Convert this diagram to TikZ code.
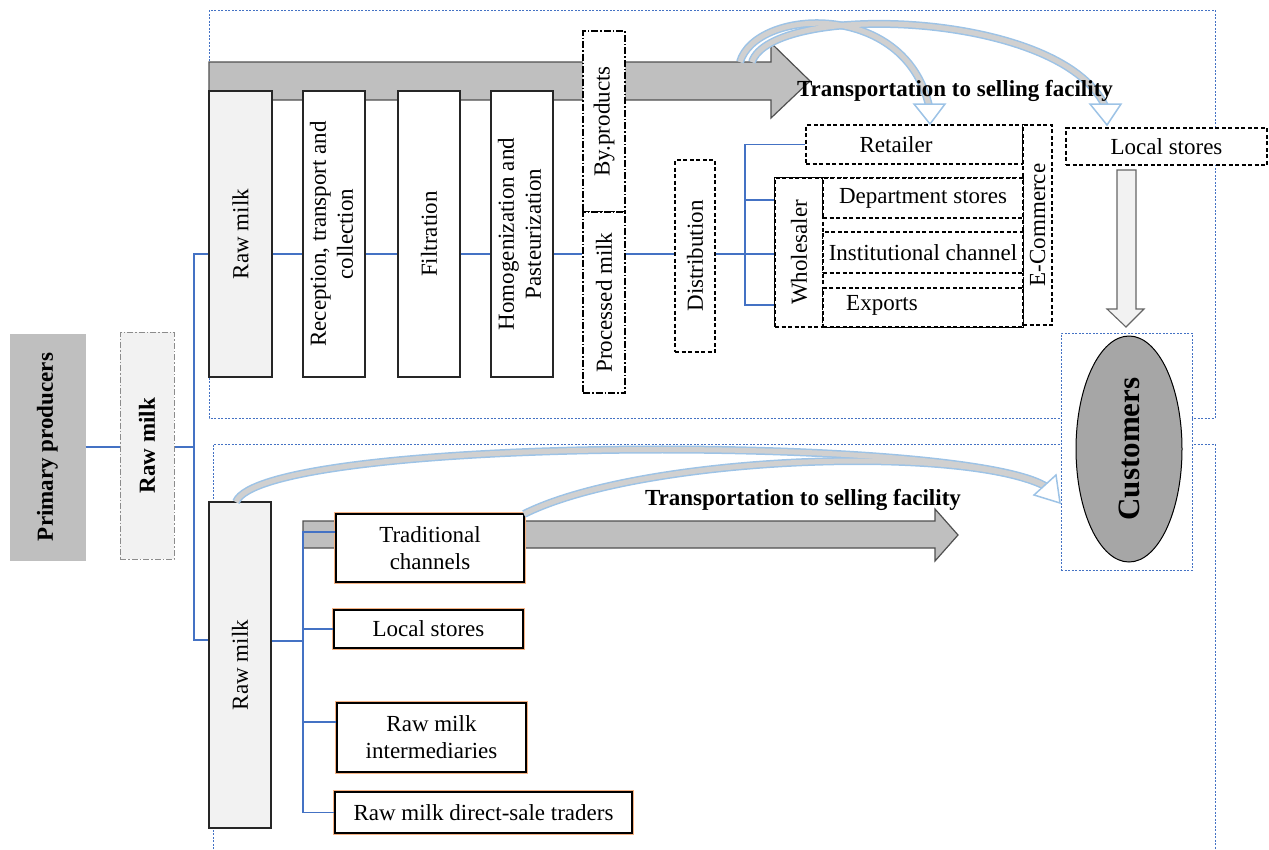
\documentclass[tikz,border=0pt]{standalone}
\usepackage{fontspec}
\setmainfont{Liberation Serif}
\usetikzlibrary{shapes.geometric,calc}
\definecolor{arrowC}{HTML}{BFBFBF}
\definecolor{arrowD}{HTML}{505050}
\definecolor{lightC}{HTML}{F2F2F2}
\definecolor{connC}{HTML}{4472C4}
\definecolor{frameC}{HTML}{4472C4}
\definecolor{orangeC}{HTML}{F4B183}
\definecolor{custC}{HTML}{A6A6A6}
\definecolor{curveC}{HTML}{D0D0D0}
\definecolor{curveO}{HTML}{9DC3E6}
\definecolor{ppC}{HTML}{BFBFBF}
\begin{document}
\begin{tikzpicture}[x=1pt,y=-1pt,
  every node/.style={font=\fontsize{23}{27}\selectfont, inner sep=0pt},
  box/.style={draw=black!85, line width=1.2pt, fill=white},
  lbox/.style={box, fill=lightC},
  dbox/.style={draw=black, line width=1.2pt, dash pattern=on 4pt off 2.5pt, fill=white},
  ddbox/.style={draw=black, line width=1.2pt, dash pattern=on 7pt off 2pt on 1.5pt off 2pt, fill=white},
  obox/.style={preaction={draw=orangeC, line width=4pt}, draw=black, line width=1.3pt, fill=white},
  conn/.style={draw=connC, line width=1.2pt},
  frame/.style={draw=frameC, line width=0.9pt, dash pattern=on 2pt off 1.5pt},
  bigarrow/.style={fill=arrowC, draw=arrowD, line width=1.2pt},
  curveout/.style={draw=curveO, line width=8pt},
  curvein/.style={draw=curveC, line width=5pt},
  curvehead/.style={fill=white, draw=curveO, line width=1.5pt, line join=miter}
]
\useasboundingbox (0,0) rectangle (1269,849);

% frames
\draw[frame] (209,10) rectangle (1215,418);
\draw[frame] (213,849) -- (213,444) -- (1215,444) -- (1215,849);

% big gray arrows
\draw[bigarrow] (209,62) -- (771,62) -- (771,43) -- (810,81) -- (771,118) -- (771,100) -- (209,100) -- cycle;
\draw[bigarrow] (303,521) -- (935,521) -- (935,509) -- (958,535) -- (935,561) -- (935,548) -- (303,548) -- cycle;

% left part
\node[fill=ppC, draw=black!25, line width=1pt, minimum width=75, minimum height=226] (pp) at (47.5,447)
  {\rotatebox{90}{\bfseries Primary producers}};
\node[fill=lightC, draw=black!45, line width=1pt, dash pattern=on 6pt off 2pt on 1.5pt off 2pt, minimum width=54, minimum height=227] (rmL) at (147,445.5)
  {\rotatebox{90}{\bfseries Raw milk}};

% top process row
\node[lbox, minimum width=63, minimum height=286] (rm1) at (240.5,234) {\rotatebox{90}{Raw milk}};
\node[box, minimum width=62, minimum height=286] (rec) at (334,234)
  {\rotatebox{90}{\begin{tabular}{@{}c@{}}Reception, transport and\\collection\end{tabular}}};
\node[box, minimum width=62, minimum height=286] (fil) at (429,234) {\rotatebox{90}{Filtration}};
\node[box, minimum width=62, minimum height=286] (hom) at (522,234)
  {\rotatebox{90}{\begin{tabular}{@{}c@{}}Homogenization and\\Pasteurization\end{tabular}}};
\node[ddbox, minimum width=42, minimum height=181] (byp) at (604,121.5) {\rotatebox{90}{By.products}};
\node[ddbox, minimum width=42, minimum height=181] (prm) at (604,302.5) {\rotatebox{90}{Processed milk}};
\node[dbox, minimum width=40, minimum height=192] (dist) at (695,256) {\rotatebox{90}{Distribution}};

% retail / wholesale
\node[dbox, minimum width=217, minimum height=39] (ret) at (914.5,144.5) {};
\node (retT) at (896,145) {Retailer};
\node[dbox, minimum width=29, minimum height=200] (ecom) at (1037.5,225) {\rotatebox{90}{E-Commerce}};
\node[dbox, minimum width=248, minimum height=149] (whlo) at (899,252.5) {};
\node[dbox, minimum width=48, minimum height=149] (whl) at (799,252.5) {\rotatebox{90}{Wholesaler}};
\node[dbox, minimum width=200, minimum height=40] (dep) at (923,198) {Department stores};
\node[dbox, minimum width=200, minimum height=41] (inst) at (923,252.5) {Institutional channel};
\node[dbox, minimum width=200, minimum height=39] (exp) at (923,307.5) {};
\node (expT) at (882,305) {Exports};
\node[dbox, minimum width=201, minimum height=37] (ls1) at (1166.5,146.5) {Local stores};

% customers
\node[fill=white, frame, minimum width=131, minimum height=237] (custbox) at (1126.5,451.5) {};
\node[ellipse, draw=black, line width=1pt, fill=custC, minimum width=106, minimum height=226] (cust) at (1129,449)
  {\rotatebox{90}{\bfseries\fontsize{31}{33}\selectfont Customers}};

% down arrow local stores -> customers
\draw[fill=lightC, draw=black!60, line width=1.1pt] (1117,170) -- (1136,170) -- (1136,309) -- (1144,309) -- (1126,327) -- (1107,309) -- (1117,309) -- cycle;

% bottom row
\node[lbox, minimum width=62, minimum height=326] (rm2) at (240,665) {\rotatebox{90}{Raw milk}};
\node[obox, minimum width=188, minimum height=68, align=center] (tc) at (430,548) {Traditional\\channels};
\node[obox, minimum width=189, minimum height=38] (ls2) at (428.5,629) {Local stores};
\node[obox, minimum width=189, minimum height=69, align=center] (rmi) at (431.5,737.5) {Raw milk\\intermediaries};
\node[obox, minimum width=297, minimum height=41] (rmd) at (483.5,812.5) {Raw milk direct-sale traders};

% connectors
\coordinate (y254) at (0,254);
\coordinate (bk) at (194,447);
\coordinate (y640) at (0,640);
\coordinate (y305) at (0,305);
\coordinate (y200) at (0,200);
\coordinate (y532) at (0,532);
\coordinate (y722) at (0,722);
\draw[conn] (pp.east) -- (rmL.west |- pp.east);
\draw[conn] (rmL.east |- bk) -- (bk);
\draw[conn] (rm1.west |- y254) -| (bk) |- (rm2.west |- y640);
\draw[conn] (rm1.east |- y254) -- (rec.west |- y254);
\draw[conn] (rec.east |- y254) -- (fil.west |- y254);
\draw[conn] (fil.east |- y254) -- (hom.west |- y254);
\draw[conn] (hom.east |- y254) -- (prm.west |- y254);
\draw[conn] (prm.east |- y254) -- (dist.west |- y254);
\coordinate (dv) at (745,254);
\draw[conn] (dist.east |- y254) -- (dv);
\draw[conn] (ret.west) -| (dv) |- (whl.west |- y305);
\draw[conn] (dv |- y200) -- (whl.west |- y200);
\draw[conn] (dv) -- (whl.west |- dv);

\coordinate (bv) at (303,641);
\draw[conn] (rm2.east |- bv) -- (bv);
\draw[conn] (tc.west |- y532) -| (bv) |- (rmd.west);
\draw[conn] (bv |- ls2.west) -- (ls2.west);
\draw[conn] (bv |- y722) -- (rmi.west |- y722);

% curved arrows (top)
\coordinate (c1s) at (740,62);
\coordinate (c1e) at (929,106);
\coordinate (c2s) at (752,62);
\coordinate (c2e) at (1105,106);
\foreach \st in {curveout,curvein}{
  \draw[\st] (c1s) .. controls (756,8) and (905,0) .. (c1e);
  \draw[\st] (c2s) .. controls (772,2) and (1060,10) .. (c2e);
}
\draw[curvehead] (914,104) -- (945,104) -- (930,124) -- cycle;
\draw[curvehead] (1090,104) -- (1121,104) -- (1107,125) -- cycle;

% curved arrows (bottom)
\coordinate (c3s) at (236,502);
\coordinate (c4s) at (524,514);
\coordinate (c3e) at (1045,486);
\foreach \st in {curveout,curvein}{
  \draw[\st] (c3s) .. controls (262,436) and (960,434) .. (c3e);
  \draw[\st] (c4s) .. controls (640,456) and (960,444) .. (c3e);
}
\draw[curvehead] (1056,475) -- (1034,495) -- (1060,503) -- cycle;

% labels
\node[font=\bfseries\fontsize{23}{27}\selectfont] (tr1) at (955,91) {Transportation to selling facility};
\node[font=\bfseries\fontsize{23}{27}\selectfont] (tr2) at (803,500) {Transportation to selling facility};
\end{tikzpicture}
\end{document}
